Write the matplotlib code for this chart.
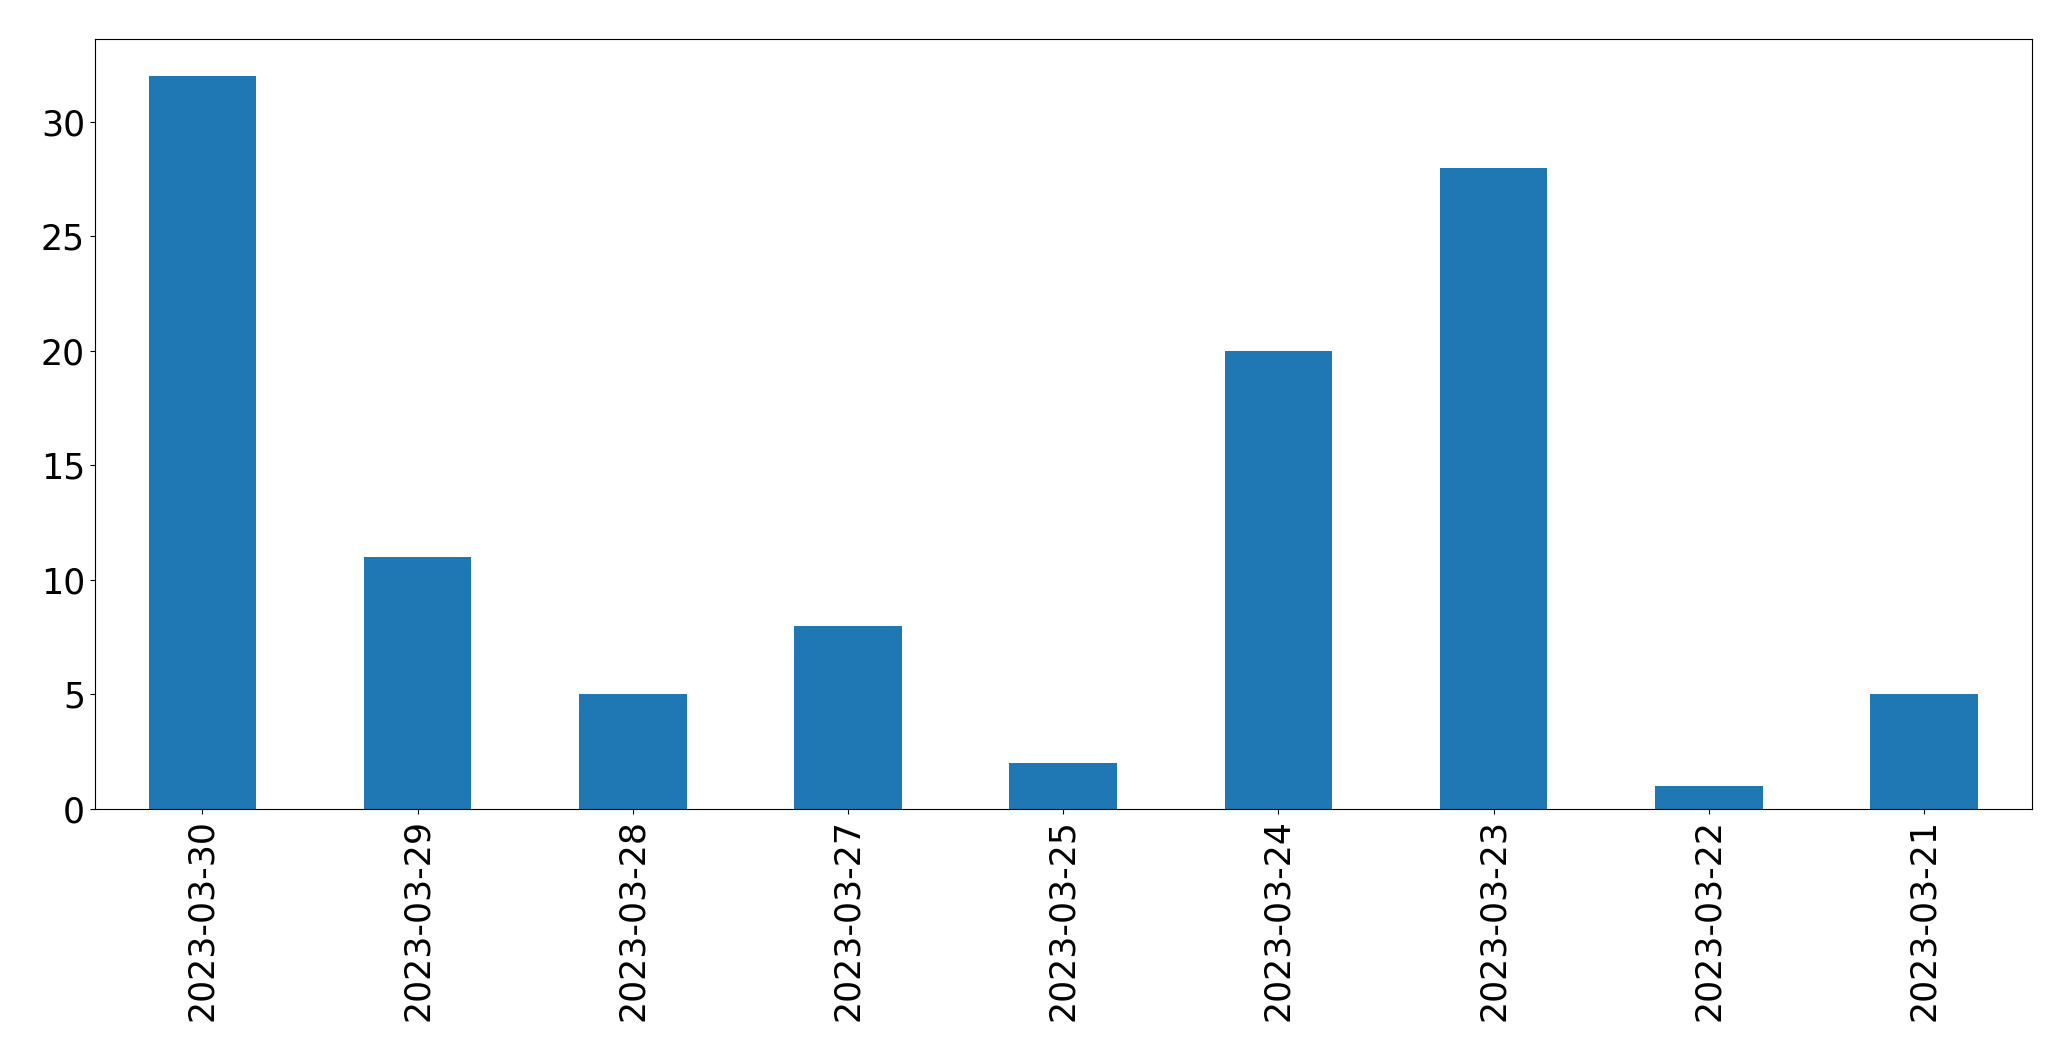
import matplotlib
matplotlib.use("Agg")
import matplotlib.pyplot as plt
import pandas as pd

dates = ["2023-03-30", "2023-03-29", "2023-03-28", "2023-03-27", "2023-03-25",
         "2023-03-24", "2023-03-23", "2023-03-22", "2023-03-21"]
counts = [32, 11, 5, 8, 2, 20, 28, 1, 5]

s = pd.Series(counts, index=dates)

fig = plt.figure(figsize=(20.71, 10.61), dpi=100)
ax = fig.add_axes([94.7 / 2071, 1 - 809 / 1061, (2031.7 - 94.7) / 2071, (809 - 39.3) / 1061])
s.plot(kind="bar", ax=ax, color="#1f77b4")
ax.tick_params(axis="both", labelsize=25)
fig.savefig("out.png", dpi=100)
plt.close(fig)
